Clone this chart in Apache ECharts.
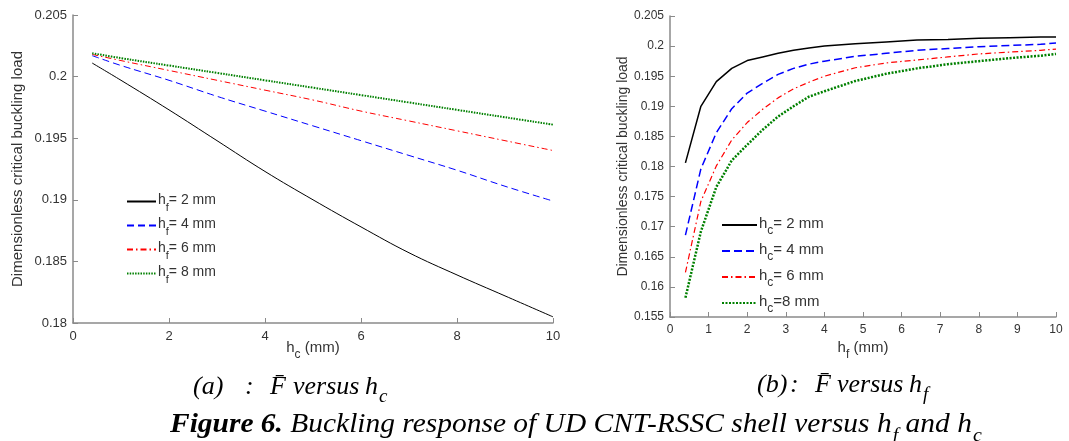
<!DOCTYPE html>
<html>
<head>
<meta charset="utf-8">
<script src="https://cdn.jsdelivr.net/npm/echarts@6/dist/echarts.min.js"></script>
<style>
html,body{margin:0;padding:0;background:#fff;}
#c{width:1069px;height:441px;}
</style>
</head>
<body>
<div id="c"></div>
<script>
// ---- Data: panel (a) F vs h_c ----
const hcValues = [0.4, 1, 2, 3, 4, 5, 6, 7, 8, 9, 10];
const hf2 = [0.2011, 0.1997, 0.1973, 0.1948, 0.1923, 0.1900, 0.1878, 0.1857, 0.1839, 0.1822, 0.1805];
const hf4 = [0.2017, 0.2009, 0.1997, 0.1984, 0.1972, 0.1960, 0.1948, 0.1936, 0.1924, 0.1911, 0.1899];
const hf6 = [0.2018, 0.2013, 0.2005, 0.1997, 0.1989, 0.1981, 0.1972, 0.1964, 0.1956, 0.1948, 0.1940];
const hf8 = [0.2019, 0.2015, 0.2009, 0.2003, 0.1997, 0.1991, 0.1985, 0.1979, 0.1973, 0.1967, 0.1961];
// ---- Data: panel (b) F vs h_f ----
const hfValues = [0.4, 0.8, 1.2, 1.6, 2.0, 2.4, 2.8, 3.2, 3.6, 4.0, 4.8, 5.6, 6.4, 7.2, 8.0, 8.8, 9.6, 10];
const hc2 = [0.1806, 0.1900, 0.1941, 0.1963, 0.1976, 0.1982, 0.1988, 0.1993, 0.1997, 0.2000, 0.2004, 0.2007, 0.2010, 0.2011, 0.2013, 0.2014, 0.2015, 0.2015];
const hc4 = [0.1686, 0.1796, 0.1856, 0.1896, 0.1922, 0.1938, 0.1953, 0.1963, 0.1970, 0.1975, 0.1983, 0.1988, 0.1993, 0.1996, 0.1999, 0.2001, 0.2003, 0.2005];
const hc6 = [0.1624, 0.1742, 0.1801, 0.1844, 0.1873, 0.1895, 0.1914, 0.1929, 0.1940, 0.1950, 0.1964, 0.1972, 0.1977, 0.1982, 0.1987, 0.1990, 0.1993, 0.1995];
const hc8 = [0.1582, 0.1692, 0.1766, 0.1810, 0.1836, 0.1861, 0.1883, 0.1900, 0.1916, 0.1925, 0.1942, 0.1954, 0.1963, 0.1970, 0.1975, 0.1980, 0.1984, 0.1987];
// ---- Ticks / labels ----
const yTicksA = {min: 0.18, max: 0.205, interval: 0.005};
const yTicksB = {min: 0.155, max: 0.205, interval: 0.005};
const xTicksA = {min: 0, max: 10, interval: 2};
const xTicksB = {min: 0, max: 10, interval: 1};
const legendA = {a2: ['f', '= 2 mm'], a4: ['f', '= 4 mm'], a6: ['f', '= 6 mm'], a8: ['f', '= 8 mm']};
const legendB = {b2: ['c', '= 2 mm'], b4: ['c', '= 4 mm'], b6: ['c', '= 6 mm'], b8: ['c', '=8 mm']};
const yTitle = 'Dimensionless critical buckling load';

const pair = (xs, ys) => xs.map((x, i) => [x, ys[i]]);
const SANS = 'Liberation Sans, Arial, sans-serif';
const SERIF = 'Liberation Serif, Times New Roman, serif';
const AX = '#8a8a8a';
const TXT = '#333333';

function subRich(size) {
  return {
    m: {fontSize: size, fontFamily: SANS, color: TXT, lineHeight: size + 3, verticalAlign: 'top'},
    s: {fontSize: size - 3, fontFamily: SANS, color: TXT, lineHeight: size - 3, padding: [Math.round(size * 0.62), 0, 0, 0], verticalAlign: 'top'}
  };
}

function xAxis(gi, t, name, labelSize, gap) {
  return {
    type: 'value', gridIndex: gi, min: t.min, max: t.max, interval: t.interval,
    name: name, nameLocation: 'middle', nameGap: gap, nameMoveOverlap: false,
    nameTextStyle: {rich: subRich(15)},
    axisLine: {show: true, lineStyle: {color: AX, width: 1.5}},
    axisTick: {show: true, inside: true, length: 5, lineStyle: {color: AX}},
    axisLabel: {color: TXT, fontSize: labelSize, fontFamily: SANS, margin: 7},
    splitLine: {show: false}
  };
}
function yAxis(gi, t, gap, size, labelSize) {
  return {
    type: 'value', gridIndex: gi, min: t.min, max: t.max, interval: t.interval,
    name: yTitle, nameLocation: 'middle', nameGap: gap,
    nameTextStyle: {fontSize: size, fontFamily: SANS, color: TXT},
    axisLine: {show: true, lineStyle: {color: AX, width: 1.5}},
    axisTick: {show: true, inside: true, length: 5, lineStyle: {color: AX}},
    axisLabel: {color: TXT, fontSize: labelSize, fontFamily: SANS, margin: 6,
      formatter: v => String(+v.toFixed(3))},
    splitLine: {show: false}
  };
}
function line(name, gi, xs, ys, color, width, type, smooth) {
  return {
    name: name, type: 'line', xAxisIndex: gi, yAxisIndex: gi,
    data: pair(xs, ys), symbol: 'none', smooth: smooth,
    lineStyle: {color: color, width: width, type: type}, itemStyle: {color: color},
    emphasis: {disabled: true}
  };
}
function legend(map, left, top, iconW, fontSize, gap) {
  return {
    data: Object.keys(map), orient: 'vertical', left: left, top: top, padding: 0,
    itemWidth: iconW, itemHeight: 10, itemGap: gap,
    itemStyle: {opacity: 0, borderWidth: 0},
    formatter: n => '{m|h}{s|' + map[n][0] + '}{m|' + map[n][1] + '}',
    textStyle: {rich: subRich(fontSize), padding: [0, 0, 0, -3]},
    selectedMode: false
  };
}

const capI = {fontFamily: SERIF, fontStyle: 'italic', fontSize: 26, fill: '#000', lineHeight: 28, verticalAlign: 'top'};
const capS = {fontFamily: SERIF, fontStyle: 'italic', fontSize: 19, fill: '#000', lineHeight: 19, padding: [13, 0, 0, 1], verticalAlign: 'top'};

const chart = echarts.init(document.getElementById('c'), null, {renderer: 'canvas'});
chart.setOption({
  animation: false,
  backgroundColor: '#ffffff',
  grid: [
    {left: 73, top: 15, width: 480, height: 308},
    {left: 670, top: 16, width: 386, height: 301}
  ],
  xAxis: [
    xAxis(0, xTicksA, '{m|h}{s|c}{m| (mm)}', 13, 17),
    xAxis(1, xTicksB, '{m|h}{s|f}{m| (mm)}', 12, 23)
  ],
  yAxis: [
    yAxis(0, yTicksA, 48, 15, 13),
    yAxis(1, yTicksB, 39, 14, 12)
  ],
  legend: [
    legend(legendA, 126, 193, 29, 14, 4),
    legend(legendB, 721, 216, 35, 15, 5)
  ],
  series: [
    line('a2', 0, hcValues, hf2, '#000000', 1, 'solid', 0.4),
    line('a4', 0, hcValues, hf4, '#0000ff', 1, [7, 4], 0.4),
    line('a6', 0, hcValues, hf6, '#ff0000', 1, [6, 3, 1.5, 3], 0.4),
    line('a8', 0, hcValues, hf8, '#008000', 2, [1.5, 1.2], 0.4),
    line('b2', 1, hfValues, hc2, '#000000', 1.5, 'solid', false),
    line('b4', 1, hfValues, hc4, '#0000ff', 1.5, [8, 4], false),
    line('b6', 1, hfValues, hc6, '#ff0000', 1.2, [6, 3, 1.5, 3], false),
    line('b8', 1, hfValues, hc8, '#008000', 2.5, [2, 1.5], false)
  ],
  graphic: [
    {type: 'text', left: 193, top: 374, style: {
      text: '{p|(a)}{c|:}{f|F\u0304}{v|versus}{h|h}{s|c}',
      rich: {
        p: Object.assign({}, capI, {width: 52}),
        c: Object.assign({}, capI, {width: 25}),
        f: Object.assign({}, capI, {width: 23}),
        v: Object.assign({}, capI, {width: 72}),
        h: Object.assign({}, capI),
        s: capS
      }}},
    {type: 'text', left: 757, top: 372, style: {
      text: '{p|(b)}{c|:}{f|F\u0304}{v|versus}{h|h}{s|f}',
      rich: {
        p: Object.assign({}, capI, {width: 33}),
        c: Object.assign({}, capI, {width: 25}),
        f: Object.assign({}, capI, {width: 22}),
        v: Object.assign({}, capI, {width: 72}),
        h: Object.assign({}, capI),
        s: capS
      }}},
    {type: 'text', left: 170, top: 411, scaleX: 1.052, style: {
      text: '{b|Figure 6.}{i| Buckling response of UD CNT-RSSC shell versus h}{s|f}{i| and h}{s|c}',
      rich: {
        b: {fontFamily: SERIF, fontStyle: 'italic', fontWeight: 'bold', fontSize: 28, fill: '#000', lineHeight: 30, verticalAlign: 'top'},
        i: {fontFamily: SERIF, fontStyle: 'italic', fontSize: 28, fill: '#000', lineHeight: 30, verticalAlign: 'top'},
        s: {fontFamily: SERIF, fontStyle: 'italic', fontSize: 19, fill: '#000', lineHeight: 19, padding: [15, 0, 0, 1], verticalAlign: 'top'}
      }}}
  ]
});
</script>
</body>
</html>
